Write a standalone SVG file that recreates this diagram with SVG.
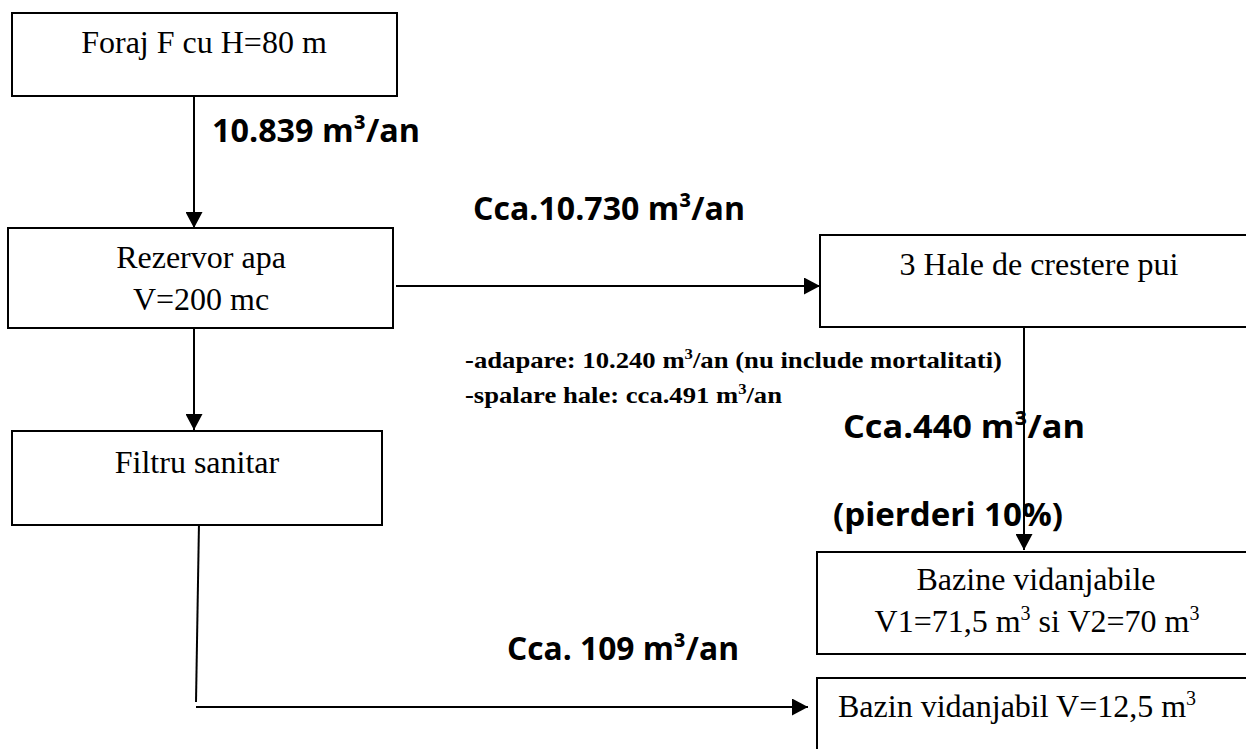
<svg xmlns="http://www.w3.org/2000/svg" width="1246" height="749" viewBox="0 0 1246 749">
<style>
  .box { fill: #fff; stroke: #000; stroke-width: 2; }
  .conn { fill: none; stroke: #000; stroke-width: 2; }
  .t { font-family: "Liberation Serif", "Times New Roman", serif; font-size: 32px; fill: #000; }
  .tb { font-family: "Liberation Serif", "Times New Roman", serif; font-size: 24px; font-weight: bold; fill: #000; }
  .lbl { font-family: "Open Sans", "Noto Sans", "Liberation Sans", sans-serif; font-size: 32px; font-weight: bold; fill: #000; }
  .sup { font-size: 20px; }
  .supb { font-size: 15px; }
</style>
<defs>
  <marker id="arr" markerUnits="userSpaceOnUse" markerWidth="17" markerHeight="17" refX="16" refY="8.5" orient="auto">
    <path d="M0,0 L16,8.5 L0,17 z" fill="#000"/>
  </marker>
</defs>
<rect width="1246" height="749" fill="#fff"/>

<g id="connectors">
  <line class="conn" x1="194" y1="94" x2="194" y2="228" marker-end="url(#arr)"/>
  <line class="conn" x1="194" y1="328" x2="194" y2="430" marker-end="url(#arr)"/>
  <line class="conn" x1="396" y1="286" x2="820" y2="286" marker-end="url(#arr)"/>
  <line class="conn" x1="1024" y1="320" x2="1024" y2="550" marker-end="url(#arr)"/>
  <line class="conn" x1="199" y1="522" x2="196" y2="702"/>
  <line class="conn" x1="196" y1="707" x2="808" y2="707" marker-end="url(#arr)"/>
</g>

<g id="node-foraj">
  <rect class="box" x="12" y="13" width="385" height="83"/>
  <text class="t" x="204" y="53" text-anchor="middle">Foraj F cu H=80 m</text>
</g>

<g id="node-rezervor">
  <rect class="box" x="8" y="228" width="385" height="100"/>
  <text class="t" x="201" y="268" text-anchor="middle">Rezervor apa</text>
  <text class="t" x="201" y="310" text-anchor="middle">V=200 mc</text>
</g>

<g id="node-filtru">
  <rect class="box" x="12" y="431" width="370" height="94"/>
  <text class="t" x="197" y="473" text-anchor="middle">Filtru sanitar</text>
</g>

<g id="node-hale">
  <rect class="box" x="820" y="235" width="440" height="92"/>
  <text class="t" x="1039" y="275" text-anchor="middle">3 Hale de crestere pui</text>
</g>

<g id="node-bazine">
  <rect class="box" x="817" y="552" width="440" height="102"/>
  <text class="t" x="1036" y="590" text-anchor="middle">Bazine vidanjabile</text>
  <text class="t" x="1037" y="632" text-anchor="middle">V1=71,5 m<tspan class="sup" dy="-12">3</tspan><tspan dy="12"> si V2=70 m</tspan><tspan class="sup" dy="-12">3</tspan></text>
</g>

<g id="node-bazin">
  <rect class="box" x="817" y="678" width="440" height="90"/>
  <text class="t" x="838" y="717">Bazin vidanjabil V=12,5 m<tspan class="sup" dy="-12">3</tspan></text>
</g>

<g id="labels">
  <text class="lbl" x="212" y="142" textLength="208" lengthAdjust="spacingAndGlyphs">10.839 m³/an</text>
  <text class="lbl" x="473" y="220" textLength="272" lengthAdjust="spacingAndGlyphs">Cca.10.730 m³/an</text>
  <text class="lbl" x="843" y="438" textLength="242" lengthAdjust="spacingAndGlyphs">Cca.440 m³/an</text>
  <text class="lbl" x="833" y="526" textLength="230" lengthAdjust="spacingAndGlyphs">(pierderi 10%)</text>
  <text class="lbl" x="507" y="660" textLength="232" lengthAdjust="spacingAndGlyphs">Cca. 109 m³/an</text>
  <text class="tb" x="465" y="368" textLength="537" lengthAdjust="spacingAndGlyphs">-adapare: 10.240 m<tspan class="supb" dy="-9">3</tspan><tspan dy="9">/an (nu include mortalitati)</tspan></text>
  <text class="tb" x="465" y="403" textLength="317" lengthAdjust="spacingAndGlyphs">-spalare hale: cca.491 m<tspan class="supb" dy="-9">3</tspan><tspan dy="9">/an</tspan></text>
</g>
</svg>
